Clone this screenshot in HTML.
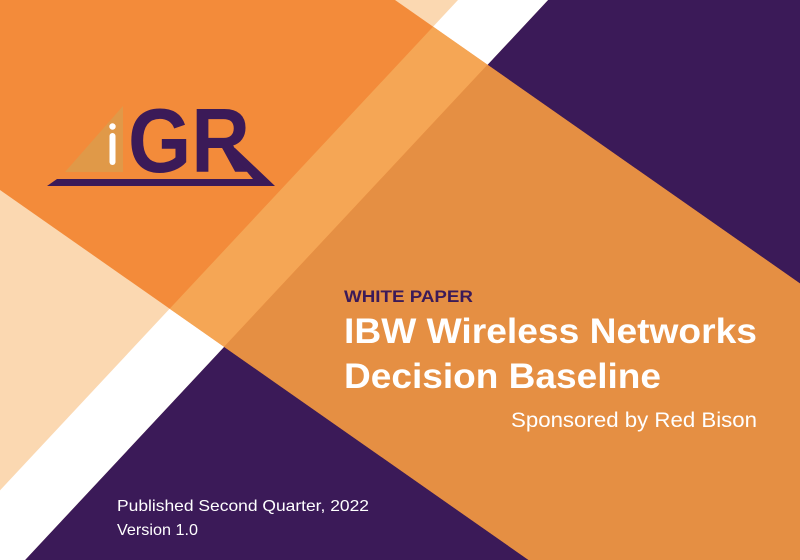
<!DOCTYPE html>
<html><head><meta charset="utf-8"><style>
html,body{margin:0;padding:0;width:800px;height:560px;overflow:hidden;background:#fff}
svg{display:block}
text{font-family:"Liberation Sans",sans-serif}
</style></head><body>
<svg width="800" height="560" viewBox="0 0 800 560" xmlns="http://www.w3.org/2000/svg">
  <defs>
    <clipPath id="band"><polygon points="0,0 395,0 800,283.5 800,560 528.6,560 0,190"/></clipPath>
  </defs>
  <rect x="0" y="0" width="800" height="560" fill="#FBD8B1"/>
  <polygon points="548,0 800,0 800,560 25,560" fill="#3B1A58"/>
  <polygon points="458,0 548,0 25,560 -65,560" fill="#FFFFFF"/>
  <g clip-path="url(#band)">
    <rect x="0" y="0" width="800" height="560" fill="#F38B3A"/>
    <polygon points="458,0 548,0 25,560 -65,560" fill="#F5A655"/>
    <polygon points="548,0 800,0 800,560 25,560" fill="#E58F43"/>
  </g>

  <g>
    <polygon points="65,172 123,106 123,172" fill="#DE9A4A" opacity="0.9"/>
    <rect x="109.5" y="133" width="6" height="32" rx="3" fill="#fff"/>
    <circle cx="112.5" cy="126.5" r="3.2" fill="#fff"/>
    <text x="128" y="172" font-size="91" font-weight="bold" fill="#3B1A58" textLength="122" lengthAdjust="spacingAndGlyphs">GR</text>
    <polygon points="57,179 253,179 233,155 222,148 235,148 275,186 47,186" fill="#3B1A58"/>
  </g>

  <text x="344" y="302" font-size="17" font-weight="bold" fill="#3B1A58" textLength="129" lengthAdjust="spacingAndGlyphs">WHITE PAPER</text>
  <text x="344" y="343" font-size="35" font-weight="bold" fill="#fff" textLength="413" lengthAdjust="spacingAndGlyphs">IBW Wireless Networks</text>
  <text x="344" y="388" font-size="35" font-weight="bold" fill="#fff" textLength="317" lengthAdjust="spacingAndGlyphs">Decision Baseline</text>
  <text x="511" y="427" font-size="21" fill="#fff" textLength="246" lengthAdjust="spacingAndGlyphs">Sponsored by Red Bison</text>
  <text x="117" y="511" font-size="16" fill="#fff" textLength="252" lengthAdjust="spacingAndGlyphs">Published Second Quarter, 2022</text>
  <text x="117" y="535" font-size="16" fill="#fff" textLength="81" lengthAdjust="spacingAndGlyphs">Version 1.0</text>
</svg>
</body></html>
